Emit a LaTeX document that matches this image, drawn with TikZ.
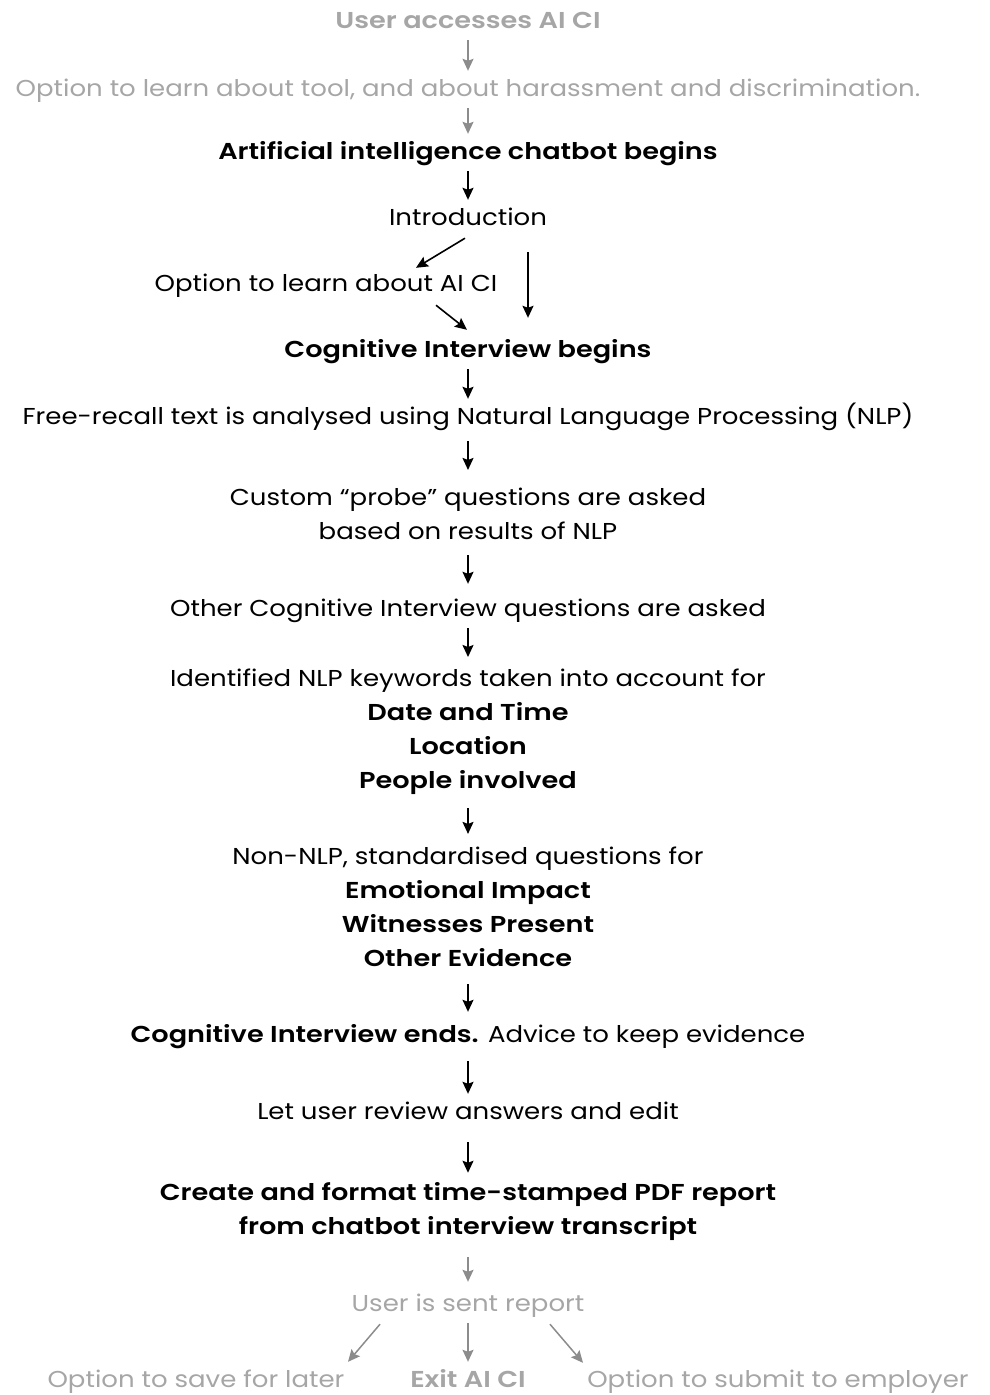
\documentclass[tikz,border=0pt]{standalone}
\usepackage{fontspec}
\setmainfont{Poppins}[FakeStretch=1.13, BoldFont={Poppins SemiBold}, BoldFeatures={FakeStretch=1.18}]
\usetikzlibrary{arrows.meta}

\definecolor{lightgrey}{HTML}{A6A6A6}
\definecolor{arrowgrey}{HTML}{8C8C8C}

\tikzset{
  txt/.style={text height=17pt, text depth=5pt},
  block/.style={align=center},
  grey/.style={text=lightgrey},
  heavy/.style={font=\fontsize{23}{34}\selectfont\bfseries},
  flow/.style={->, line width=1.6pt, shorten <=3pt, shorten >=4pt},
  greyflow/.style={flow, draw=arrowgrey, line width=1.5pt},
}

\begin{document}
\begin{tikzpicture}[x=1pt, y=-1pt, >={Stealth[length=12pt,width=11pt,inset=2pt]},
    every node/.style={inner sep=4pt, font=\fontsize{23}{34}\selectfont}]
    \useasboundingbox (0,0) rectangle (989,1395);

    % Nodes
    \node[txt, grey, heavy] (access) at (468,22) {User accesses AI CI};
    \node[txt, grey] (learntool) at (468,90) {Option to learn about tool, and about harassment and discrimination.};
    \node[txt, heavy] (chatbot) at (468,153) {Artificial intelligence chatbot begins};
    \node[txt] (intro) at (468,219) {Introduction};
    \node[txt] (learnci) at (326,285) {Option to learn about AI CI};
    \node[txt, heavy] (cibegins) at (468,351) {Cognitive Interview begins};
    \node[txt] (nlp) at (468,418) {Free-recall text is analysed using Natural Language Processing (NLP)};
    \node[block] (probe) at (468,514) {Custom “probe” questions are asked\\based on results of NLP};
    \node[txt] (other) at (468,610) {Other Cognitive Interview questions are asked};
    \node[block] (keywords) at (468,732) {Identified NLP keywords taken into account for\\\textbf{Date and Time}\\\textbf{Location}\\\textbf{People involved}};
    \node[block] (standard) at (468,907) {Non-NLP, standardised questions for\\\textbf{Emotional Impact}\\\textbf{Witnesses Present}\\\textbf{Other Evidence}};
    \node[txt] (ends) at (468,1036) {\textbf{Cognitive Interview ends.} Advice to keep evidence};
    \node[txt] (review) at (468,1113) {Let user review answers and edit};
    \node[block, heavy] (report) at (468,1212) {Create and format time-stamped PDF report\\from chatbot interview transcript};
    \node[txt, grey] (sent) at (468,1305) {User is sent report};
    \node[txt, grey] (save) at (196,1381) {Option to save for later};
    \node[txt, grey, heavy] (exit) at (468,1381) {Exit AI CI};
    \node[txt, grey] (submit) at (778,1381) {Option to submit to employer};

    % Edges
    \draw[greyflow] (access) -- (learntool);
    \draw[greyflow] (learntool) -- (chatbot);
    \draw[flow] (chatbot) -- (intro);
    \draw[flow, shorten <=0pt, shorten >=0pt] ([xshift=-3pt,yshift=-4pt]intro.south) -- ([xshift=90pt,yshift=2pt]learnci.north);
    \draw[flow, shorten <=0pt, shorten >=0pt] ([xshift=60pt,yshift=-18pt]intro.south) -- ([xshift=60pt,yshift=18pt]cibegins.north);
    \draw[flow, shorten <=0pt, shorten >=0pt] ([xshift=110pt,yshift=-5pt]learnci.south) -- ([xshift=-1pt,yshift=6pt]cibegins.north);
    \draw[flow] (cibegins) -- (nlp);
    \draw[flow, shorten <=8pt, shorten >=14pt] (nlp) -- (probe);
    \draw[flow, shorten <=11pt, shorten >=11pt] (probe) -- (other);
    \draw[flow, shorten >=8pt] (other) -- (keywords);
    \draw[flow, shorten <=9pt, shorten >=9pt] (keywords) -- (standard);
    \draw[flow, shorten <=13pt, shorten >=9pt] (standard) -- (ends);
    \draw[flow, shorten <=10pt] (ends) -- (review);
    \draw[flow, shorten <=14pt, shorten >=6pt] (review) -- (report);
    \draw[greyflow, shorten <=12pt, shorten >=8pt] (report) -- (sent);
    \draw[greyflow, shorten <=0pt, shorten >=0pt] ([xshift=-88pt,yshift=-4pt]sent.south) -- ([xshift=152pt,yshift=4pt]save.north);
    \draw[greyflow] (sent) -- (exit);
    \draw[greyflow, shorten <=0pt, shorten >=0pt] ([xshift=82pt,yshift=-4pt]sent.south) -- ([xshift=-195pt,yshift=3pt]submit.north);
\end{tikzpicture}
\end{document}
